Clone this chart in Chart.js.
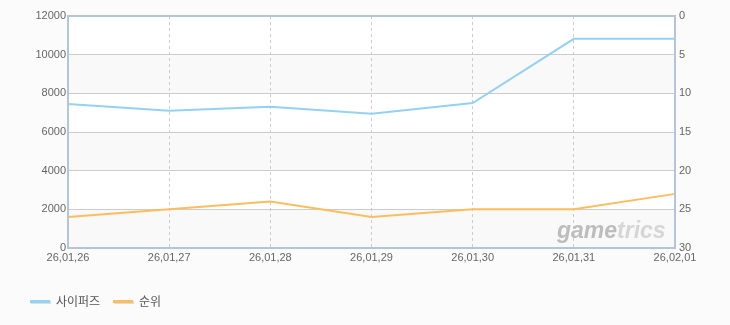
<!DOCTYPE html>
<html>
<head>
<meta charset="utf-8">
<script src="https://cdn.jsdelivr.net/npm/chart.js@4"></script>
<style>
  html, body { margin: 0; padding: 0; background: #fbfbfb; }
  #wrap { position: relative; width: 730px; height: 325px; }
  #legend { position: absolute; left: 30px; top: 293px; font: 12px "Noto Sans CJK KR", sans-serif; color: #555; }
  .item { position: absolute; top: 0; white-space: nowrap; }
  .swatch { position: absolute; top: 7px; width: 20px; height: 3px; box-shadow: 1px 1px 0 #ddd; }
  .label { position: absolute; left: 26px; top: -1px; }
</style>
</head>
<body>
<div id="wrap">
  <canvas id="chart" width="730" height="325"></canvas>
  <div id="legend"></div>
</div>
<script>
const dates = ["26,01,26", "26,01,27", "26,01,28", "26,01,29", "26,01,30", "26,01,31", "26,02,01"];
const players = [7450, 7100, 7300, 6950, 7500, 10820, 10820];
const ranks = [26, 25, 24, 26, 25, 25, 23];
const seriesNames = ["사이퍼즈", "순위"];
const colors = ["#94d2f3", "#fcbd5e"];

const tickFont = { family: "'Liberation Sans', Arial, sans-serif", size: 11 };

// White plot area with alternating grey bands, drawn before the grid
const bg = {
  id: "bg",
  beforeDraw(chart) {
    const { ctx, chartArea: a, scales } = chart;
    const y = scales.y;
    ctx.save();
    ctx.fillStyle = "#ffffff";
    ctx.fillRect(a.left, a.top, a.right - a.left, a.bottom - a.top);
    for (let v = 0; v < 12000; v += 4000) {
      const top = y.getPixelForValue(v + 2000);
      const bot = y.getPixelForValue(v);
      ctx.fillStyle = "#f9f9f9";
      ctx.fillRect(a.left, top, a.right - a.left, bot - top);
    }
    ctx.restore();
  }
};

// Watermark + frame
const decor = {
  id: "decor",
  beforeDatasetsDraw(chart) {
    const { ctx } = chart;
    ctx.save();
    ctx.font = "italic bold 23px 'Liberation Sans', Arial, sans-serif";
    ctx.textBaseline = "alphabetic";
    ctx.fillStyle = "#bdbdbd";
    ctx.fillText("game", 557, 238);
    const w = ctx.measureText("game").width;
    ctx.fillStyle = "#d6d6d6";
    ctx.fillText("trics", 557 + w, 238);
    ctx.restore();
  },
  afterDatasetsDraw(chart) {
    const { ctx, chartArea: a } = chart;
    ctx.save();
    ctx.strokeStyle = "#b3c5d8";
    ctx.lineWidth = 2;
    ctx.strokeRect(a.left, a.top, a.right - a.left, a.bottom - a.top);
    ctx.restore();
  }
};

new Chart(document.getElementById("chart"), {
  type: "line",
  data: {
    labels: dates,
    datasets: [
      { label: seriesNames[0], data: players, borderColor: colors[0], yAxisID: "y" },
      { label: seriesNames[1], data: ranks, borderColor: colors[1], yAxisID: "y2" },
    ],
  },
  options: {
    responsive: false,
    animation: false,
    layout: { padding: { top: 16, left: 0, right: 0, bottom: 0 } },
    elements: {
      line: { borderWidth: 2, tension: 0 },
      point: { radius: 0 },
    },
    plugins: {
      legend: { display: false },
      tooltip: { enabled: false },
    },
    scales: {
      x: {
        offset: false,
        grid: { color: "#cccccc", drawTicks: false },
        border: { display: false, dash: [3, 3] },
        ticks: { color: "#666", font: tickFont, maxRotation: 0, autoSkip: false, padding: 3 },
        afterFit(s) { s.height = 77; },
      },
      y: {
        position: "left",
        min: 0,
        max: 12000,
        ticks: { stepSize: 2000, color: "#666", font: tickFont, padding: 2, callback: (v) => String(v) },
        grid: { color: "#cccccc", drawTicks: false },
        border: { display: false },
        afterFit(s) { s.width = 68; },
      },
      y2: {
        position: "right",
        reverse: true,
        min: 0,
        max: 30,
        ticks: { stepSize: 5, color: "#666", font: tickFont, padding: 4 },
        grid: { display: false, drawTicks: false },
        border: { display: false },
        afterFit(s) { s.width = 55; },
      },
    },
  },
  plugins: [bg, decor],
});

// HTML legend
const legend = document.getElementById("legend");
const offsets = [0, 83];
seriesNames.forEach((name, i) => {
  const item = document.createElement("div");
  item.className = "item";
  item.style.left = offsets[i] + "px";
  item.innerHTML = `<span class="swatch" style="background:${colors[i]}"></span><span class="label">${name}</span>`;
  legend.append(item);
});
</script>
</body>
</html>
